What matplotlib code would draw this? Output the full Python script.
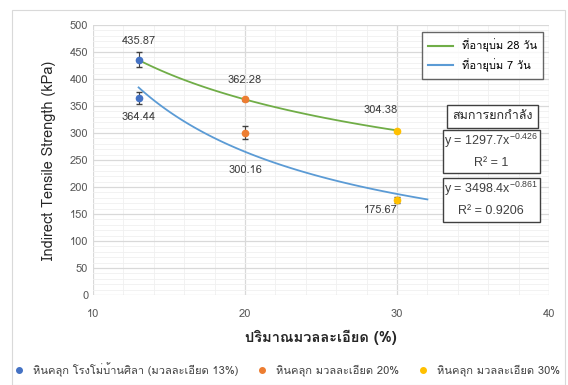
import numpy as np
import matplotlib
matplotlib.use("Agg")
import matplotlib.pyplot as plt
from matplotlib import font_manager
from matplotlib.patches import Rectangle
from matplotlib.lines import Line2D

# data
fines = [13, 20, 30]
itss_28 = [435.87, 362.28, 304.38]
itss_7 = [364.44, 300.16, 175.67]
err_28 = [14, 3, 2]
err_7 = [11, 12, 6]
point_colors = ["#4472C4", "#ED7D31", "#FFC000"]
point_names = ["หินคลุก โรงโม่บ้านศิลา (มวลละเอียด 13%)",
               "หินคลุก มวลละเอียด 20%",
               "หินคลุก มวลละเอียด 30%"]
fit_28 = (1297.7, -0.426, 13, 30)
fit_7 = (3498.4, -0.861, 13, 32)


def find_thai_font():
    from fontTools.ttLib import TTFont
    found = []
    for f in font_manager.fontManager.ttflist:
        try:
            tt = TTFont(f.fname, fontNumber=0, lazy=True)
            cmap = tt.getBestCmap()
        except Exception:
            continue
        if cmap and 0x0E01 in cmap:
            found.append(f.name)
    return found


thai = find_thai_font()
plt.rcParams['font.family'] = thai[:1] + ['DejaVu Sans']
plt.rcParams['mathtext.fontset'] = 'custom'
plt.rcParams['mathtext.rm'] = 'Liberation Sans'
plt.rcParams['mathtext.it'] = 'Liberation Sans'

fig = plt.figure(figsize=(5.68, 3.85), dpi=100)
fig.patches.append(Rectangle((12 / 568, 0), 553 / 568, 375 / 385, transform=fig.transFigure,
                             fill=False, edgecolor="#D9D9D9", linewidth=0.8))
ax = fig.add_axes([93 / 568, 1 - 295 / 385, 456 / 568, 270 / 385])

ax.set_xlim(10, 40)
ax.set_ylim(0, 500)
ax.set_xticks([10, 20, 30, 40])
ax.set_yticks(np.arange(0, 501, 50))
ax.set_xticks(np.arange(10, 41, 2), minor=True)
ax.set_yticks(np.arange(0, 501, 10), minor=True)
ax.grid(True, which="major", color="#D9D9D9", linewidth=0.9)
ax.grid(True, which="minor", color="#F0F0F0", linewidth=0.6)
ax.set_axisbelow(True)
for s in ax.spines.values():
    s.set_visible(False)
ax.tick_params(which="both", length=0, colors="#595959", labelsize=8)
ax.tick_params(axis="x", pad=10)

# trend lines
for (a, b, x0, x1), col in [(fit_28, "#70AD47"), (fit_7, "#5B9BD5")]:
    xs = np.linspace(x0, x1, 100)
    ax.plot(xs, a * xs ** b, color=col, linewidth=1.3, zorder=2)

# points with error bars
for i in range(3):
    for vals, errs in [(itss_28, err_28), (itss_7, err_7)]:
        ax.errorbar(fines[i], vals[i], yerr=errs[i], fmt="o", color=point_colors[i],
                    ecolor="#404040", elinewidth=0.8, capsize=2.5, markersize=4.5, zorder=3)

lab = dict(fontsize=8, color="#404040", ha="center", va="center")
ax.text(13, 470, f"{itss_28[0]:.2f}", **lab)
ax.text(13, 330, f"{itss_7[0]:.2f}", **lab)
ax.text(20, 398, f"{itss_28[1]:.2f}", **lab)
ax.text(20, 231, f"{itss_7[1]:.2f}", **lab)
ax.text(28.9, 343, f"{itss_28[2]:.2f}", **lab)
ax.text(28.9, 157, f"{itss_7[2]:.2f}", **lab)

ax.set_ylabel("Indirect Tensile Strength (kPa)", fontsize=10.5, color="#262626", labelpad=10)
ax.set_xlabel("ปริมาณมวลละเอียด (%)", fontsize=10.5, fontweight="bold", color="#262626", labelpad=8)

# trend line legend
leg = ax.legend(handles=[Line2D([], [], color="#70AD47", lw=1.5), Line2D([], [], color="#5B9BD5", lw=1.5)],
                labels=["ที่อายุบ่ม 28 วัน", "ที่อายุบ่ม 7 วัน"],
                loc="upper right", bbox_to_anchor=(1.0, 0.995), fontsize=8, frameon=True,
                fancybox=False, edgecolor="#404040", handlelength=2.2, borderpad=0.6)
leg.get_frame().set_linewidth(1.0)

# equation boxes (data coords)
def box(x0, x1, y0, y1):
    ax.add_patch(Rectangle((x0, y0), x1 - x0, y1 - y0, facecolor="white", edgecolor="#404040",
                           linewidth=1.0, zorder=5, clip_on=False))

eq = dict(fontsize=9, color="#404040", ha="center", va="center", zorder=6, family="Liberation Sans")
box(33.3, 39.3, 309, 352)
ax.text(36.3, 331, "สมการยกกำลัง", fontsize=9, color="#262626", ha="center", va="center", zorder=6)
box(33.03, 39.4, 226, 305)
ax.text(36.2, 285, "y = 1297.7x$^{-0.426}$", **eq)
ax.text(36.2, 244, "R² = 1", **eq)
box(33.03, 39.4, 135, 217)
ax.text(36.2, 196, "y = 3498.4x$^{-0.861}$", **eq)
ax.text(36.2, 155, "R² = 0.9206", **eq)

# bottom legend
handles = [Line2D([], [], marker="o", color=c, linestyle="none", markersize=4) for c in point_colors]
fig.legend(handles, point_names, loc="lower center", bbox_to_anchor=(0.5, -0.005), ncol=3,
           fontsize=8, frameon=False, handletextpad=0.2, columnspacing=1.2, labelcolor="#404040")

fig.savefig("out.png", dpi=100)
